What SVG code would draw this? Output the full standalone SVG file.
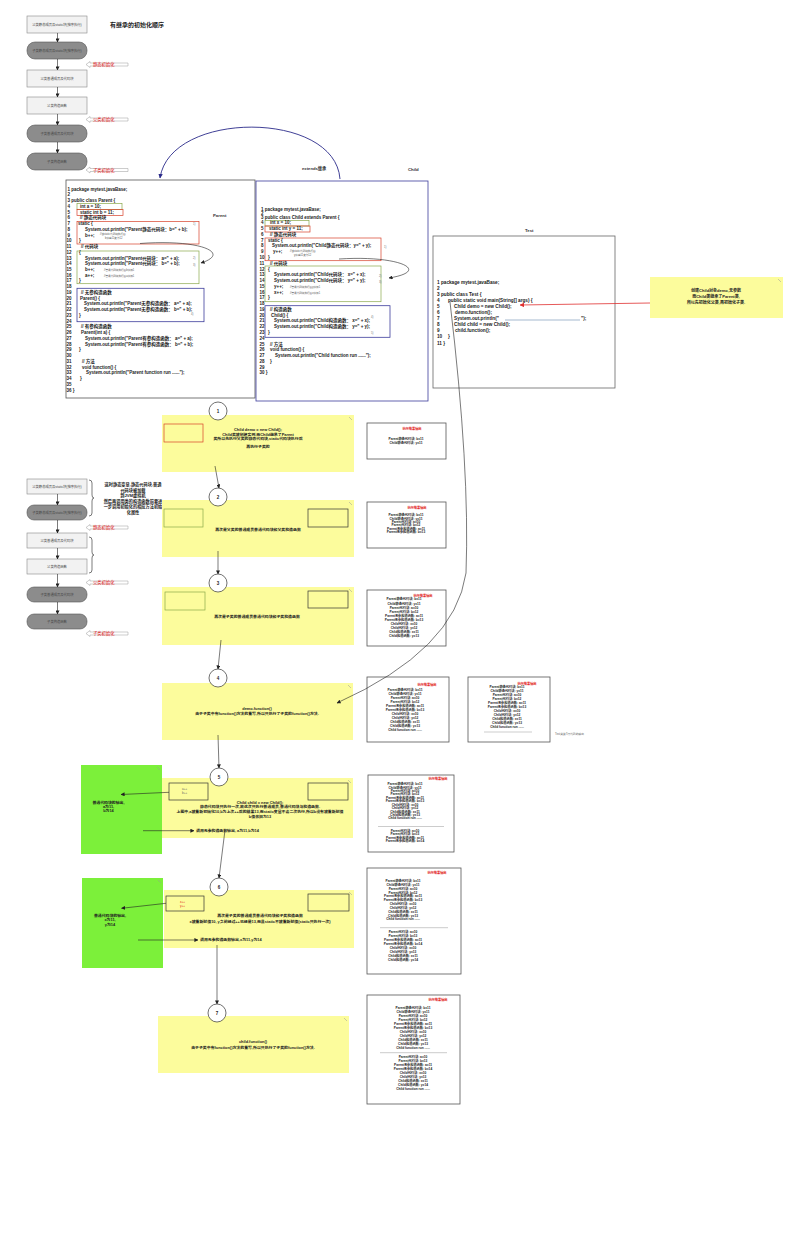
<svg xmlns="http://www.w3.org/2000/svg" width="791" height="1237" viewBox="0 0 791 1237">
<style>
text{font-family:"Liberation Sans","Noto Sans CJK SC",sans-serif;}
.c{font-size:4.5px;font-weight:bold;fill:#1a1a1a;}
.t{font-size:4.7px;font-weight:bold;fill:#1a1a1a;}
.cm{font-size:2.6px;fill:#555;}
.mk{font-size:2.8px;fill:#777;}
.o{font-size:3.2px;font-weight:bold;fill:#222;text-anchor:middle;}
.ot{font-size:3.2px;font-weight:bold;fill:#e01010;text-anchor:middle;}
.y{font-size:3.9px;font-weight:bold;fill:#222;text-anchor:middle;}
.yl{font-size:3.9px;font-weight:bold;fill:#222;}
.fb{font-size:3.3px;fill:#444;text-anchor:middle;}
.lab{font-size:4.3px;fill:#e01010;}
.cap{font-size:4.6px;font-weight:bold;fill:#333;}
.box{fill:#fff;stroke:#555;stroke-width:0.8;}
.yb{fill:#fcfc9c;stroke:none;}
.gb{fill:#7cf03a;stroke:none;}
.lt{fill:#f2f2f2;stroke:#888;stroke-width:0.6;}
.dk{fill:#8c8c8c;stroke:#555;stroke-width:0.6;}
.circ{fill:#fff;stroke:#333;stroke-width:0.7;}
.num{font-size:4.5px;font-weight:bold;fill:#222;text-anchor:middle;}
.rr{fill:none;stroke:#d8402a;stroke-width:0.7;}
.gr{fill:none;stroke:#8aa84a;stroke-width:0.7;}
.br{fill:none;stroke:#3c3c9c;stroke-width:0.8;}
.dr{fill:none;stroke:#333;stroke-width:0.7;}
.ln{fill:none;stroke:#222;stroke-width:0.6;}
.fold{fill:none;stroke:#999;stroke-width:0.5;}
.sep{stroke:#999;stroke-width:0.5;}
.hol{fill:#fff;stroke:#999;stroke-width:0.5;}
</style>
<defs>
<marker id="ah" viewBox="0 0 10 10" refX="9" refY="5" markerWidth="4" markerHeight="4" orient="auto" markerUnits="userSpaceOnUse"><path d="M0,0L10,5L0,10z" fill="#222"/></marker>
<marker id="ab" viewBox="0 0 10 10" refX="9" refY="5" markerWidth="4.5" markerHeight="4.5" orient="auto" markerUnits="userSpaceOnUse"><path d="M0,0L10,5L0,10z" fill="#2a2a8a"/></marker>
<marker id="ar" viewBox="0 0 10 10" refX="9" refY="5" markerWidth="4.5" markerHeight="4.5" orient="auto" markerUnits="userSpaceOnUse"><path d="M0,0L10,5L0,10z" fill="#e03030"/></marker>
</defs>
<rect width="791" height="1237" fill="#fff"/>

<text x="110" y="27" style="font-size:6px;font-weight:bold;fill:#222">有继承的初始化顺序</text>

<!-- top flow -->
<g id="flow1">
<rect class="lt" x="27" y="16" width="60" height="17"/><text class="fb" x="57" y="25.8">父类静态成员及static块(按序执行)</text>
<rect class="dk" x="27" y="42" width="60" height="17" rx="8"/><text class="fb" x="57" y="51.8">子类静态成员及static块(按序执行)</text>
<rect class="lt" x="27" y="70" width="60" height="17"/><text class="fb" x="57" y="79.8">父类普通成员及代码块</text>
<rect class="lt" x="27" y="97" width="60" height="17"/><text class="fb" x="57" y="106.8">父类构造函数</text>
<rect class="dk" x="27" y="125" width="60" height="17" rx="8"/><text class="fb" x="57" y="134.8">子类普通成员及代码块</text>
<rect class="dk" x="27" y="153" width="60" height="17" rx="8"/><text class="fb" x="57" y="162.8">子类构造函数</text>
<polygon class="hol" points="86,64.5 90,61.5 90,63 128,63 128,66 90,66 90,67.5"/><text class="lab" x="93" y="66.2">静态初始化</text>
<polygon class="hol" points="86,119.5 90,116.5 90,118 128,118 128,121 90,121 90,122.5"/><text class="lab" x="93" y="121.2">父类初始化</text>
<polygon class="hol" points="86,170 90,167 90,168.5 128,168.5 128,171.5 90,171.5 90,173"/><text class="lab" x="93" y="171.7">子类初始化</text>
</g>

<!-- second flow -->
<g id="flow2">
<rect class="lt" x="27" y="479" width="60" height="15"/><text class="fb" x="57" y="487.8">父类静态成员及static块(按序执行)</text>
<rect class="dk" x="27" y="505" width="60" height="15" rx="7"/><text class="fb" x="57" y="513.8">子类静态成员及static块(按序执行)</text>
<rect class="lt" x="27" y="533" width="60" height="15"/><text class="fb" x="57" y="541.8">父类普通成员及代码块</text>
<rect class="lt" x="27" y="559" width="60" height="15"/><text class="fb" x="57" y="567.8">父类构造函数</text>
<rect class="dk" x="27" y="587" width="60" height="15" rx="7"/><text class="fb" x="57" y="595.8">子类普通成员及代码块</text>
<rect class="dk" x="27" y="614" width="60" height="15" rx="7"/><text class="fb" x="57" y="622.8">子类构造函数</text>
<polygon class="hol" points="86,527.5 90,524.5 90,526 128,526 128,529 90,529 90,530.5"/><text class="lab" x="93" y="529.2">静态初始化</text>
<polygon class="hol" points="86,582.5 90,579.5 90,581 128,581 128,584 90,584 90,585.5"/><text class="lab" x="93" y="584.2">父类初始化</text>
<polygon class="hol" points="86,633.5 90,630.5 90,632 128,632 128,635 90,635 90,636.5"/><text class="lab" x="93" y="635.2">子类初始化</text>
<path class="ln" d="M89,480 q3,0 3,3 v12 q0,3 2,3 q-2,0 -2,3 v12 q0,3 -3,3"/>
<path class="ln" d="M89,537 q3,0 3,3 v12 q0,3 2,3 q-2,0 -2,3 v12 q0,3 -3,3"/>
<g class="y" style="font-size:4.2px">
<text x="133" y="486">这时静态变量,静态代码块,普通</text>
<text x="133" y="491.5">代码块被加载</text>
<text x="133" y="497">到JVM虚拟机</text>
<text x="133" y="502.5">然后再调用类的构造函数前要进</text>
<text x="133" y="508">一步调用初始化的相应方法初始</text>
<text x="133" y="513.5">化属性</text>
</g>
</g>

<!-- Parent -->
<g id="parent">
<rect x="66" y="180" width="189" height="218" fill="#fff" stroke="#555" stroke-width="0.8"/>
<text class="cap" x="213" y="216.5" style="font-size:4.3px">Parent</text>
<rect class="gr" x="77" y="203.5" width="45" height="6"/>
<rect class="rr" x="77" y="209.5" width="46" height="6"/>
<rect class="rr" x="77" y="221.5" width="122" height="22.5"/>
<rect class="gr" x="77" y="251" width="122" height="32.7"/>
<rect class="br" x="77" y="288.3" width="127" height="33.4"/>
<g class="c">
<text x="67.5" y="190.6">1 package mytest.javaBase;</text>
<text x="67.5" y="196.3">2</text>
<text x="67.5" y="202.1">3 public class Parent {</text>
<text x="67.5" y="207.8">4</text><text x="80" y="207.8">int a = 10;</text>
<text x="67.5" y="213.6">5</text><text x="80" y="213.6">static int b = 11;</text>
<text x="67.5" y="219.3">6</text><text x="80" y="219.3">// 静态代码块</text>
<text x="67.5" y="225">7</text><text x="78" y="225">static {</text>
<text x="67.5" y="230.8">8</text><text x="85" y="230.8">System.out.println("Parent静态代码块：b=" + b);</text>
<text x="67.5" y="236.5">9</text><text x="85" y="236.5">b++;</text>
<text x="66.5" y="242.3">10</text><text x="79" y="242.3">}</text>
<text x="66.5" y="248">11</text><text x="81" y="248">// 代码块</text>
<text x="66.5" y="253.7">12</text><text x="79" y="253.7">{</text>
<text x="66.5" y="259.5">13</text><text x="85" y="259.5">System.out.println("Parent代码块： a=" + a);</text>
<text x="66.5" y="265.2">14</text><text x="85" y="265.2">System.out.println("Parent代码块： b=" + b);</text>
<text x="66.5" y="271">15</text><text x="85" y="271">b++;</text>
<text x="66.5" y="276.7">16</text><text x="85" y="276.7">a++;</text>
<text x="66.5" y="282.4">17</text><text x="79" y="282.4">}</text>
<text x="66.5" y="288.2">18</text>
<text x="66.5" y="293.9">19</text><text x="81" y="293.9">// 无参构造函数</text>
<text x="66.5" y="299.7">20</text><text x="80" y="299.7">Parent() {</text>
<text x="66.5" y="305.4">21</text><text x="84" y="305.4">System.out.println("Parent无参构造函数： a=" + a);</text>
<text x="66.5" y="311.1">22</text><text x="84" y="311.1">System.out.println("Parent无参构造函数： b=" + b);</text>
<text x="66.5" y="316.9">23</text><text x="79" y="316.9">}</text>
<text x="66.5" y="322.6">24</text>
<text x="66.5" y="328.4">25</text><text x="81" y="328.4">// 有参构造函数</text>
<text x="66.5" y="334.1">26</text><text x="81" y="334.1">Parent(int a) {</text>
<text x="66.5" y="339.8">27</text><text x="85" y="339.8">System.out.println("Parent有参构造函数： a=" + a);</text>
<text x="66.5" y="345.6">28</text><text x="85" y="345.6">System.out.println("Parent有参构造函数： b=" + b);</text>
<text x="66.5" y="351.3">29</text><text x="79" y="351.3">}</text>
<text x="66.5" y="357.1">30</text>
<text x="66.5" y="362.8">31</text><text x="82" y="362.8">// 方法</text>
<text x="66.5" y="368.5">32</text><text x="82" y="368.5">void function() {</text>
<text x="66.5" y="374.3">33</text><text x="86" y="374.3">System.out.println("Parent function run ......");</text>
<text x="66.5" y="380">34</text><text x="80" y="380">}</text>
<text x="66.5" y="385.8">35</text>
<text x="66.5" y="391.5">36 }</text>
</g>
<text class="cm" x="100" y="235">//该static代码块执行后</text>
<text class="cm" x="105" y="239">b值由11变为12</text>
<text class="cm" x="104" y="271">//普通代码块执行后b值加1</text>
<text class="cm" x="104" y="276.7">//普通代码块执行后a值加1</text>
<text class="mk" x="193" y="225">1)</text>
<text class="mk" x="193" y="259">2)</text>
<text class="mk" x="193" y="265.5">3)</text>
<text class="mk" x="191" y="315">4)</text>
</g>

<!-- Child -->
<g id="child">
<rect x="256" y="181" width="172" height="220" fill="#fff" stroke="#3c3c9c" stroke-width="0.8"/>
<rect class="gr" x="265" y="220.5" width="44" height="5.5"/>
<rect class="rr" x="265" y="226" width="45" height="6"/>
<rect class="rr" x="265" y="238" width="116" height="22.7"/>
<rect class="gr" x="265" y="266" width="116" height="35.7"/>
<rect class="br" x="265" y="305.7" width="125" height="31.6"/>
<g class="c">
<text x="261" y="210.6">1 package mytest.javaBase;</text>
<text x="261" y="215">2</text>
<text x="261" y="219.3">3 public class Child extends Parent {</text>
<text x="261" y="224.3">4</text><text x="270" y="224.3">int x = 10;</text>
<text x="261" y="230.1">5</text><text x="269" y="230.1">static int y = 11;</text>
<text x="261" y="235.8">6</text><text x="270" y="235.8">// 静态代码块</text>
<text x="261" y="241.6">7</text><text x="268" y="241.6">static {</text>
<text x="261" y="247.4">8</text><text x="272" y="247.4">System.out.println("Child静态代码块：y=" + y);</text>
<text x="261" y="253.2">9</text><text x="273" y="253.2">y++;</text>
<text x="259.5" y="258.9">10</text><text x="268" y="258.9">}</text>
<text x="259.5" y="264.7">11</text><text x="270" y="264.7">// 代码块</text>
<text x="259.5" y="270.5">12</text><text x="268" y="270.5">{</text>
<text x="259.5" y="276.2">13</text><text x="274" y="276.2">System.out.println("Child代码块： x=" + x);</text>
<text x="259.5" y="282">14</text><text x="274" y="282">System.out.println("Child代码块： y=" + y);</text>
<text x="259.5" y="287.8">15</text><text x="274" y="287.8">y++;</text>
<text x="259.5" y="293.5">16</text><text x="274" y="293.5">x++;</text>
<text x="259.5" y="299.3">17</text><text x="268" y="299.3">}</text>
<text x="259.5" y="305.1">18</text>
<text x="259.5" y="310.9">19</text><text x="270" y="310.9">// 构造函数</text>
<text x="259.5" y="316.6">20</text><text x="271" y="316.6">Child() {</text>
<text x="259.5" y="322.4">21</text><text x="274" y="322.4">System.out.println("Child构造函数： x=" + x);</text>
<text x="259.5" y="328.2">22</text><text x="274" y="328.2">System.out.println("Child构造函数： y=" + y);</text>
<text x="259.5" y="333.9">23</text><text x="268" y="333.9">}</text>
<text x="259.5" y="339.7">24</text>
<text x="259.5" y="345.5">25</text><text x="270" y="345.5">// 方法</text>
<text x="259.5" y="351.2">26</text><text x="270" y="351.2">void function() {</text>
<text x="259.5" y="357">27</text><text x="275" y="357">System.out.println("Child function run ......");</text>
<text x="259.5" y="362.8">28</text><text x="270" y="362.8">}</text>
<text x="259.5" y="368.5">29</text>
<text x="259.5" y="374.3">30 }</text>
</g>
<text class="cm" x="290" y="252">//该static代码块执行后</text>
<text class="cm" x="294" y="256">y值由11变为12</text>
<text class="cm" x="290" y="287.8">//普通代码块执行后y值加1</text>
<text class="cm" x="290" y="293.5">//普通代码块执行后x值加1</text>
<text class="mk" x="384" y="248">1)</text>
<text class="mk" x="379" y="277">2)</text>
<text class="mk" x="379" y="283">3)</text>
<text class="mk" x="371" y="318">4)</text>
<text class="mk" x="371" y="334">5)</text>
</g>

<text class="cap" x="302" y="170" style="font-size:4.2px">extends继承</text>
<text class="cap" x="408" y="171" style="font-size:4.3px">Child</text>

<!-- Test -->
<g id="test">
<rect x="433" y="236" width="182" height="152" fill="#fff" stroke="#666" stroke-width="0.8"/>
<text class="cap" x="525" y="231.5" style="font-size:4.3px">Test</text>
<g class="t">
<text x="437" y="283.5">1 package mytest.javaBase;</text>
<text x="437" y="289.6">2</text>
<text x="437" y="295.7">3 public class Test {</text>
<text x="437" y="301.8">4</text><text x="448" y="301.8">public static void main(String[] args) {</text>
<text x="437" y="307.9">5</text><text x="454" y="307.9">Child demo = new Child();</text>
<text x="437" y="314">6</text><text x="455" y="314">demo.function();</text>
<text x="437" y="320.1">7</text><text x="454" y="320.1">System.out.println("</text><text x="581" y="320.1">");</text>
<text x="437" y="326.2">8</text><text x="454" y="326.2">Child child = new Child();</text>
<text x="437" y="332.3">9</text><text x="455" y="332.3">child.function();</text>
<text x="437" y="338.4">10</text><text x="448" y="338.4">}</text>
<text x="437" y="344.5">11 }</text>
</g>
<line x1="505" y1="320" x2="580" y2="320" stroke="#6a8ab0" stroke-width="0.6"/>
</g>

<!-- Note -->
<g id="note">
<rect class="yb" x="650" y="277" width="133" height="41"/>
<path class="fold" d="M778,279 l3,3"/>
<text class="y" x="716" y="292.4" style="font-size:4px">创建Child对象demo,无参数</text>
<text class="y" x="716" y="297.7" style="font-size:4px">而Child类继承了Parent类,</text>
<text class="y" x="716" y="303.7" style="font-size:4px">所以先初始化父类,再初始化子类.</text>
</g>

<!-- Steps -->
<g id="step1">
<rect class="yb" x="162" y="415" width="192" height="57"/><path class="fold" d="M349,417 l3,3"/>
<rect class="rr" x="164" y="424" width="39" height="18"/>
<text class="y" x="258" y="431.4">Child demo = new Child();</text>
<text class="y" x="258" y="435.9">Child类被创建实例,而Child继承了Parent</text>
<text class="y" x="258" y="440.4">类所以先执行父类的静态代码块,static代码块执行后</text>
<text class="y" x="258" y="448">再执行子类的</text>
<circle class="circ" cx="218" cy="411" r="9"/><text class="num" x="218" y="412.6">1</text>
</g>
<g id="out1">
<rect class="box" x="367" y="423" width="79" height="36"/>
<text class="ot" x="412" y="429.5">执行结果输出</text>
<text class="o" x="406" y="440.4">Parent静态代码块: b=11</text>
<text class="o" x="406" y="443.8">Child静态代码块: y=11</text>
</g>

<g id="step2">
<rect class="yb" x="162" y="500" width="192" height="57"/><path class="fold" d="M349,502 l3,3"/>
<rect class="gr" x="164" y="509" width="39" height="18"/>
<rect class="dr" x="308" y="509" width="40" height="18"/>
<text class="y" x="258" y="531.4">再次是父类的普通成员普通代码块和父类构造函数</text>
<circle class="circ" cx="218" cy="497" r="9"/><text class="num" x="218" y="498.6">2</text>
</g>
<g id="out2">
<rect class="box" x="367" y="502" width="79" height="46"/>
<text class="ot" x="417" y="509.4">执行结果输出</text>
<text class="o" x="406" y="516.1">Parent静态代码块: b=11</text>
<text class="o" x="406" y="519.5">Child静态代码块: y=11</text>
<text class="o" x="406" y="522.9">Parent代码块: a=10</text>
<text class="o" x="406" y="526.3">Parent代码块: b=12</text>
<text class="o" x="406" y="529.7">Parent无参构造函数: a=11</text>
<text class="o" x="406" y="533.1">Parent无参构造函数: b=13</text>
</g>

<g id="step3">
<rect class="yb" x="162" y="587" width="192" height="58"/><path class="fold" d="M349,589 l3,3"/>
<rect class="gr" x="165" y="592" width="40" height="18"/>
<rect class="dr" x="308" y="591" width="40" height="17"/>
<text class="y" x="257" y="618">再次是子类的普通成员普通代码块和子类构造函数</text>
<circle class="circ" cx="218" cy="583" r="9"/><text class="num" x="218" y="584.6">3</text>
</g>
<g id="out3">
<rect class="box" x="367" y="590" width="79" height="56"/>
<text class="ot" x="423" y="596.8">执行结果输出</text>
<text class="o" x="404" y="600.4">Parent静态代码块: b=11</text>
<text class="o" x="404" y="604.5">Child静态代码块: y=11</text>
<text class="o" x="404" y="608.6">Parent代码块: a=10</text>
<text class="o" x="404" y="612.6">Parent代码块: b=12</text>
<text class="o" x="404" y="616.7">Parent无参构造函数: a=11</text>
<text class="o" x="404" y="620.8">Parent无参构造函数: b=13</text>
<text class="o" x="404" y="624.8">Child代码块: x=10</text>
<text class="o" x="404" y="628.9">Child代码块: y=12</text>
<text class="o" x="404" y="633">Child构造函数: x=11</text>
<text class="o" x="404" y="637">Child构造函数: y=13</text>
</g>

<g id="step4">
<rect class="yb" x="162" y="683" width="191" height="57"/><path class="fold" d="M348,685 l3,3"/>
<text class="y" x="257" y="709.7">demo.function()</text>
<text class="y" x="257" y="714.7">由于子类中有function()方法的重写,所以只执行了子类的function()方法.</text>
<circle class="circ" cx="218" cy="678" r="9"/><text class="num" x="218" y="679.6">4</text>
</g>
<g id="out4a">
<rect class="box" x="367" y="677" width="82" height="65"/>
<text class="ot" x="427" y="686.1">执行结果输出</text>
<text class="o" x="405" y="691.1">Parent静态代码块: b=11</text>
<text class="o" x="405" y="695.1">Child静态代码块: y=11</text>
<text class="o" x="405" y="699.1">Parent代码块: a=10</text>
<text class="o" x="405" y="703.1">Parent代码块: b=12</text>
<text class="o" x="405" y="707.1">Parent无参构造函数: a=11</text>
<text class="o" x="405" y="711.1">Parent无参构造函数: b=13</text>
<text class="o" x="405" y="715.1">Child代码块: x=10</text>
<text class="o" x="405" y="719.1">Child代码块: y=12</text>
<text class="o" x="405" y="723.1">Child构造函数: x=11</text>
<text class="o" x="405" y="727.1">Child构造函数: y=13</text>
<text class="o" x="405" y="731.1">Child function run ......</text>
</g>
<g id="out4b">
<rect class="box" x="468" y="677" width="82" height="65"/>
<text class="ot" x="527" y="685.1">执行结果输出</text>
<text class="o" x="507" y="688.4">Parent静态代码块: b=11</text>
<text class="o" x="507" y="692.4">Child静态代码块: y=11</text>
<text class="o" x="507" y="696.4">Parent代码块: a=10</text>
<text class="o" x="507" y="700.4">Parent代码块: b=12</text>
<text class="o" x="507" y="704.4">Parent无参构造函数: a=11</text>
<text class="o" x="507" y="708.4">Parent无参构造函数: b=13</text>
<text class="o" x="507" y="712.4">Child代码块: x=10</text>
<text class="o" x="507" y="716.4">Child代码块: y=12</text>
<text class="o" x="507" y="720.4">Child构造函数: x=11</text>
<text class="o" x="507" y="724.4">Child构造函数: y=13</text>
<text class="o" x="507" y="728.4">Child function run ......</text>
<line class="sep" x1="484" y1="732" x2="532" y2="732"/>
</g>
<text x="555" y="735" style="font-size:2.8px;fill:#666">Test类第7行代码的输出</text>

<g id="step5">
<rect class="gb" x="81" y="765" width="81" height="89"/><path class="fold" d="M157,767 l3,3"/>
<text class="y" x="108.5" y="804">普通代码块的输出,</text>
<text class="y" x="108.5" y="808">a为11,</text>
<text class="y" x="108.5" y="812.3">b为14</text>
<rect class="yb" x="162" y="778" width="191" height="60"/><path class="fold" d="M348,780 l3,3"/>
<rect class="dr" x="169" y="783" width="39" height="17"/>
<text x="182" y="790" style="font-size:3px;fill:#666">a++</text>
<text x="182" y="794" style="font-size:3px;fill:#666">b++</text>
<rect class="dr" x="308" y="783" width="40" height="17"/>
<text class="y" x="260" y="804">Child child = new Child();</text>
<text class="y" x="260" y="808">静态代码块只执行一次,故这次只执行普通成员,普通代码块与构造函数.</text>
<text class="y" x="260" y="813">上图中,a被重新初始化10,b为上次++后的结果13,而static变量不会二次执行,所以b没有被重新赋值</text>
<text class="y" x="260" y="818">b值依旧为13</text>
<text class="yl" x="196" y="832.2">调用无参构造函数输出, a为11,b为14</text>
<circle class="circ" cx="219" cy="777" r="9"/><text class="num" x="219" y="778.6">5</text>
</g>
<g id="out5">
<rect class="box" x="368" y="775" width="86" height="77"/>
<text class="ot" x="438" y="780.1">执行结果输出</text>
<text class="o" x="405" y="785.1">Parent静态代码块: b=11</text>
<text class="o" x="405" y="788.5">Child静态代码块: y=11</text>
<text class="o" x="405" y="792">Parent代码块: a=10</text>
<text class="o" x="405" y="795.4">Parent代码块: b=12</text>
<text class="o" x="405" y="798.8">Parent无参构造函数: a=11</text>
<text class="o" x="405" y="802.3">Parent无参构造函数: b=13</text>
<text class="o" x="405" y="805.7">Child代码块: x=10</text>
<text class="o" x="405" y="809.1">Child代码块: y=12</text>
<text class="o" x="405" y="812.5">Child构造函数: x=11</text>
<text class="o" x="405" y="816">Child构造函数: y=13</text>
<text class="o" x="405" y="819.4">Child function run ......</text>
<line class="sep" x1="378" y1="826.5" x2="444" y2="826.5"/>
<text class="o" x="405" y="832.1">Parent代码块: a=10</text>
<text class="o" x="405" y="835.4">Parent代码块: b=13</text>
<text class="o" x="405" y="838.8">Parent无参构造函数: a=11</text>
<text class="o" x="405" y="842.1">Parent无参构造函数: b=14</text>
</g>

<g id="step6">
<rect class="gb" x="82" y="878" width="81" height="90"/><path class="fold" d="M158,880 l3,3"/>
<text class="y" x="110" y="917">普通代码块的输出,</text>
<text class="y" x="110" y="921.3">x为11,</text>
<text class="y" x="110" y="925.6">y为14</text>
<rect class="yb" x="164" y="890" width="190" height="58"/><path class="fold" d="M349,892 l3,3"/>
<rect class="dr" x="166" y="896" width="38" height="15"/>
<text x="180" y="902.7" style="font-size:3px;fill:#e02020">x++</text>
<text x="180" y="906.7" style="font-size:3px;fill:#e02020">y++</text>
<rect class="dr" x="308" y="894" width="41" height="17"/>
<text class="y" x="260" y="917">再次是子类的普通成员普通代码块和子类构造函数</text>
<text class="y" x="260" y="923">x被重新赋值10, y之前经过++已经是13,而且static不被重新赋值(static只执行一次)</text>
<text class="yl" x="200" y="941.2">调用无参构造函数输出,x为11,y为14</text>
<circle class="circ" cx="219" cy="887" r="9"/><text class="num" x="219" y="888.6">6</text>
</g>
<g id="out6">
<rect class="box" x="367" y="868" width="94" height="106"/>
<text class="ot" x="437" y="874.4">执行结果输出</text>
<text class="o" x="403" y="882.1">Parent静态代码块: b=11</text>
<text class="o" x="403" y="885.9">Child静态代码块: y=11</text>
<text class="o" x="403" y="889.8">Parent代码块: a=10</text>
<text class="o" x="403" y="893.6">Parent代码块: b=12</text>
<text class="o" x="403" y="897.4">Parent无参构造函数: a=11</text>
<text class="o" x="403" y="901.3">Parent无参构造函数: b=13</text>
<text class="o" x="403" y="905.1">Child代码块: x=10</text>
<text class="o" x="403" y="908.9">Child代码块: y=12</text>
<text class="o" x="403" y="912.7">Child构造函数: x=11</text>
<text class="o" x="403" y="916.6">Child构造函数: y=13</text>
<text class="o" x="403" y="920.4">Child function run ......</text>
<line class="sep" x1="380" y1="927.7" x2="448" y2="927.7"/>
<text class="o" x="403" y="932.8">Parent代码块: a=10</text>
<text class="o" x="403" y="936.8">Parent代码块: b=13</text>
<text class="o" x="403" y="940.7">Parent无参构造函数: a=11</text>
<text class="o" x="403" y="944.7">Parent无参构造函数: b=14</text>
<text class="o" x="403" y="948.6">Child代码块: x=10</text>
<text class="o" x="403" y="952.6">Child代码块: y=13</text>
<text class="o" x="403" y="956.5">Child构造函数: x=11</text>
<text class="o" x="403" y="960.5">Child构造函数: y=14</text>
</g>

<g id="step7">
<rect class="yb" x="158" y="1016" width="191" height="57"/><path class="fold" d="M344,1018 l3,3"/>
<text class="y" x="253" y="1043">child.function()</text>
<text class="y" x="253" y="1048.7">由于子类中有function()方法的重写,所以只执行了子类的function()方法.</text>
<circle class="circ" cx="217" cy="1013" r="9"/><text class="num" x="217" y="1014.6">7</text>
</g>
<g id="out7">
<rect class="box" x="367" y="995" width="93" height="109"/>
<text class="ot" x="438" y="1001.1">执行结果输出</text>
<text class="o" x="413" y="1009.4">Parent静态代码块: b=11</text>
<text class="o" x="413" y="1013.4">Child静态代码块: y=11</text>
<text class="o" x="413" y="1017.4">Parent代码块: a=10</text>
<text class="o" x="413" y="1021.4">Parent代码块: b=12</text>
<text class="o" x="413" y="1025.4">Parent无参构造函数: a=11</text>
<text class="o" x="413" y="1029.4">Parent无参构造函数: b=13</text>
<text class="o" x="413" y="1033.4">Child代码块: x=10</text>
<text class="o" x="413" y="1037.4">Child代码块: y=12</text>
<text class="o" x="413" y="1041.4">Child构造函数: x=11</text>
<text class="o" x="413" y="1045.4">Child构造函数: y=13</text>
<text class="o" x="413" y="1049.4">Child function run ......</text>
<line class="sep" x1="380" y1="1052.7" x2="447" y2="1052.7"/>
<text class="o" x="413" y="1057.8">Parent代码块: a=10</text>
<text class="o" x="413" y="1061.9">Parent代码块: b=13</text>
<text class="o" x="413" y="1066">Parent无参构造函数: a=11</text>
<text class="o" x="413" y="1070">Parent无参构造函数: b=14</text>
<text class="o" x="413" y="1074.1">Child代码块: x=10</text>
<text class="o" x="413" y="1078.2">Child代码块: y=13</text>
<text class="o" x="413" y="1082.3">Child构造函数: x=11</text>
<text class="o" x="413" y="1086.4">Child构造函数: y=14</text>
<text class="o" x="413" y="1090.4">Child function run ......</text>
</g>

<!-- connectors -->
<g id="connectors">
<g class="ln" marker-end="url(#ah)">
<line x1="57.5" y1="33" x2="57.5" y2="42"/>
<line x1="57.5" y1="59" x2="57.5" y2="70"/>
<line x1="57.5" y1="87" x2="57.5" y2="97"/>
<line x1="57.5" y1="114" x2="57.5" y2="125"/>
<line x1="57.5" y1="142" x2="57.5" y2="153"/>
<line x1="57.5" y1="494" x2="57.5" y2="505"/>
<line x1="57.5" y1="520" x2="57.5" y2="533"/>
<line x1="57.5" y1="548" x2="57.5" y2="559"/>
<line x1="57.5" y1="574" x2="57.5" y2="587"/>
<line x1="57.5" y1="602" x2="57.5" y2="614"/>
<line x1="215" y1="466" x2="219" y2="488"/>
<line x1="218" y1="551" x2="218" y2="574"/>
<line x1="221" y1="640" x2="218" y2="669"/>
<line x1="218" y1="735" x2="219" y2="768"/>
<line x1="225" y1="830" x2="219" y2="878"/>
<line x1="217" y1="945" x2="217" y2="1004"/>
<line x1="169" y1="792.3" x2="121" y2="794.5"/>
<line x1="143" y1="830.7" x2="194" y2="830.7"/>
<line x1="166" y1="903.3" x2="121.5" y2="908.3"/>
<line x1="138" y1="940" x2="198" y2="940"/>
<path d="M140,243.5 C200,239 232,253 201,263"/>
<path d="M339,259 C400,255 432,271 389,278"/>
<path d="M450,302 Q470,470 466,573 Q455,650 337,703"/>
</g>
<path d="M340,179 C335,110 170,110 160,178" fill="none" stroke="#2a2a8a" stroke-width="0.9" marker-end="url(#ab)"/>
<line x1="650" y1="303" x2="520" y2="305" stroke="#e03030" stroke-width="0.8" marker-end="url(#ar)"/>
</g>
</svg>
